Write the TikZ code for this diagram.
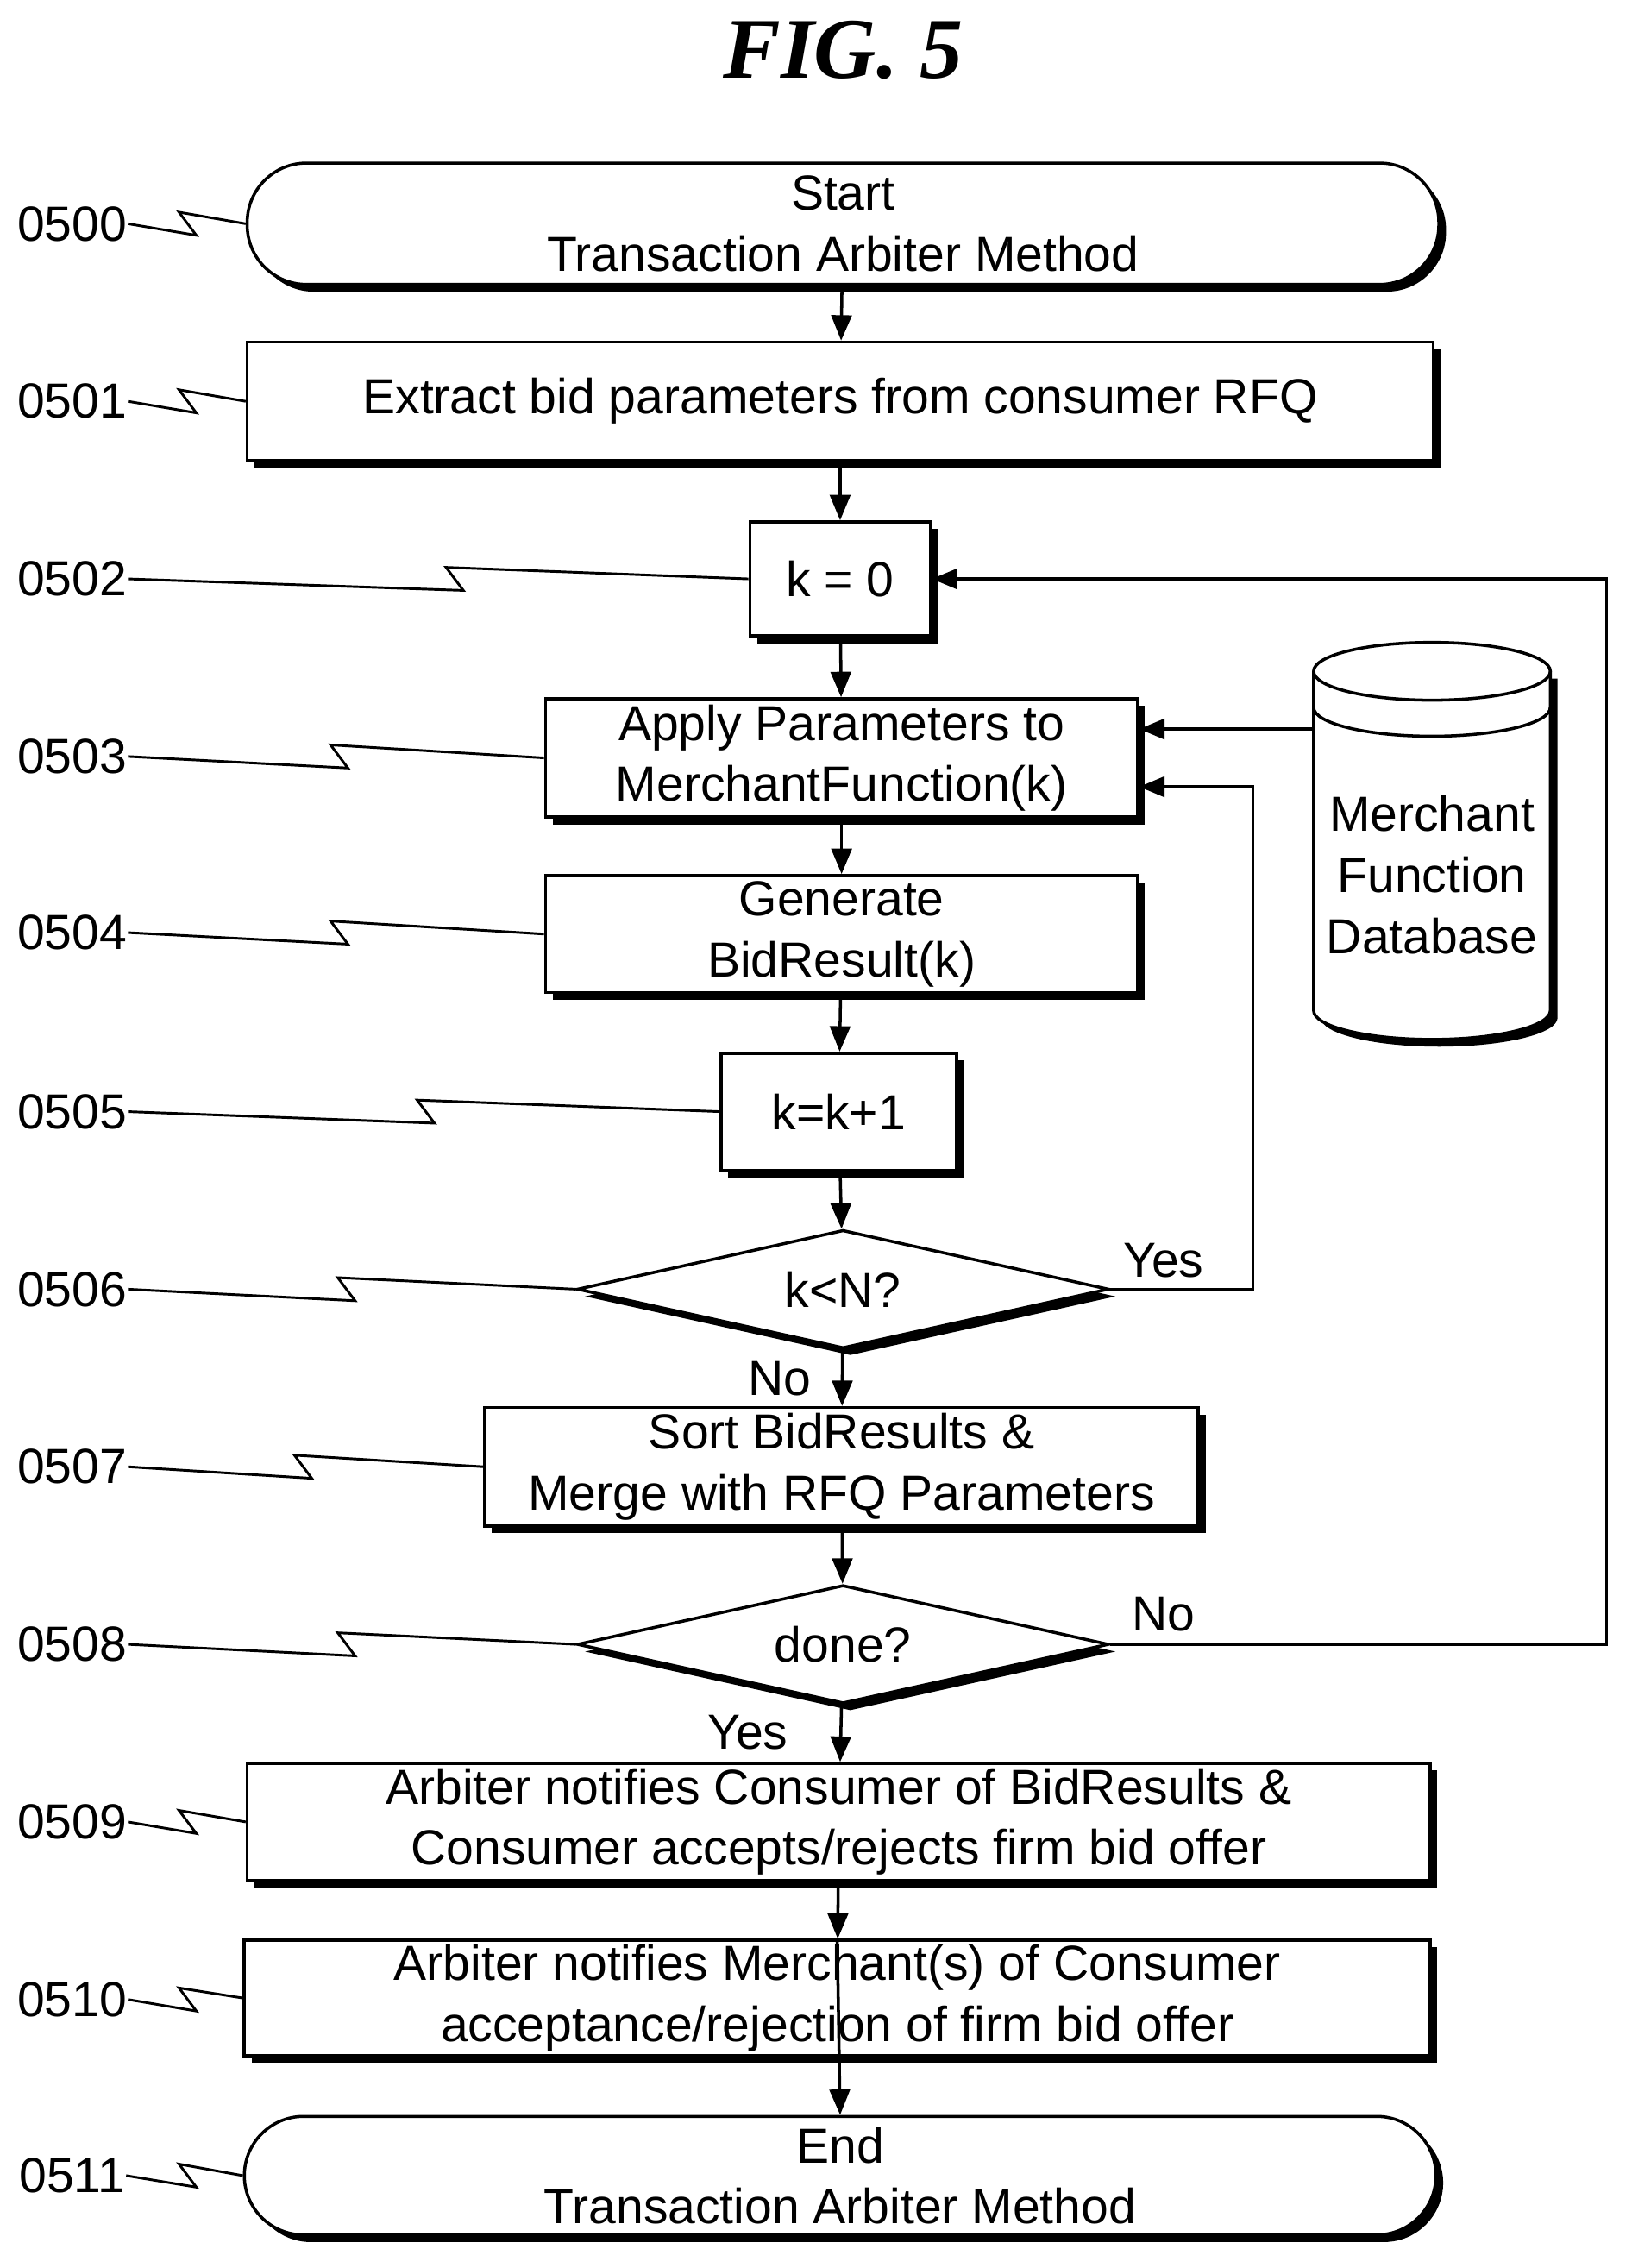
\documentclass[tikz,border=0pt]{standalone}
\usepackage{fontspec}
\setmainfont{Liberation Sans}
\newfontfamily\titlefont{Liberation Serif}
\usetikzlibrary{shadows,shapes.geometric,arrows.meta}
\begin{document}
\begin{tikzpicture}[x=0.01cm,y=-0.01cm,
  every node/.style={font=\fontsize{9.7}{12}\selectfont,align=center,inner sep=0pt},
  shad/.style={drop shadow={shadow xshift=0.05cm,shadow yshift=-0.05cm,fill=black,opacity=1}},
  box/.style={draw,fill=white,line width=0.6pt,shad},
  term/.style={box,rounded corners=0.41cm},
  dia/.style={draw,fill=white,line width=0.6pt,diamond,aspect=4.5,shad},
  arr/.style={-{Triangle[length=5pt,width=4pt]},line width=0.6pt},
  ln/.style={line width=0.5pt}]
\useasboundingbox (0,0) rectangle (1130,1571);
\newcommand\zz[4]{\draw[ln] (#1.east) -- (#3+6,#4+8) -- (#3-6,#4-8) -- (#2.west);}
\node[font=\titlefont\fontsize{17}{20}\selectfont\bfseries\itshape] (title) at (584,35) {FIG. 5};
\node[term,minimum width=8.25cm,minimum height=0.84cm] (n0) at (584,155) {Start\\Transaction Arbiter Method};
\node[box,minimum width=8.21cm,minimum height=0.82cm] (n1) at (582,278) {Extract bid parameters from consumer RFQ};
\node[box,minimum width=1.25cm,minimum height=0.79cm] (n2) at (582,401) {k = 0};
\node[box,minimum width=4.10cm,minimum height=0.82cm] (n3) at (583,525) {Apply Parameters to\\MerchantFunction(k)};
\node[box,minimum width=4.10cm,minimum height=0.81cm] (n4) at (583,647) {Generate\\BidResult(k)};
\node[box,minimum width=1.63cm,minimum height=0.81cm] (n5) at (581,770) {k=k+1};
\node[dia,minimum width=3.68cm,minimum height=0.82cm] (n6) at (584,893) {k<N?};
\node[box,minimum width=4.94cm,minimum height=0.82cm] (n7) at (583,1016) {Sort BidResults \&\\Merge with RFQ Parameters};
\node[dia,minimum width=3.68cm,minimum height=0.82cm] (n8) at (584,1139) {done?};
\node[box,minimum width=8.19cm,minimum height=0.81cm] (n9) at (581,1262) {Arbiter notifies Consumer of BidResults \&\\Consumer accepts/rejects firm bid offer};
\node[box,minimum width=8.21cm,minimum height=0.80cm] (n10) at (580,1384) {Arbiter notifies Merchant(s) of Consumer\\acceptance/rejection of firm bid offer};
\node[term,minimum width=8.25cm,minimum height=0.82cm] (n11) at (582,1507) {End\\Transaction Arbiter Method};
% database
\fill[black] (915,470) -- (915,705) arc[start angle=180,end angle=0,x radius=82,y radius=20] -- (1079,470) -- cycle;
\filldraw[fill=white,line width=0.6pt] (910,465) -- (910,700) arc[start angle=180,end angle=0,x radius=82,y radius=20] -- (1074,465) arc[start angle=0,end angle=-180,x radius=82,y radius=20] -- cycle;
\draw[line width=0.6pt] (910,465) arc[start angle=180,end angle=0,x radius=82,y radius=20];
\draw[line width=0.6pt] (910,490) arc[start angle=180,end angle=0,x radius=82,y radius=20];
\node (db) at (992,606) {Merchant\\Function\\Database};
\coordinate (dbw) at (910,505);
% flow arrows
\draw[arr] (n0) -- (n1);
\draw[arr] (n1) -- (n2);
\draw[arr] (n2) -- (n3);
\draw[arr] (n3) -- (n4);
\draw[arr] (n4) -- (n5);
\draw[arr] (n5) -- (n6);
\draw[arr] (n6) -- (n7);
\draw[arr] (n7) -- (n8);
\draw[arr] (n8) -- (n9);
\draw[arr] (n9) -- (n10);
\draw[arr] (n10.north) -- (n11.north);
\draw[arr] (dbw) -- (n3.east |- dbw);
\draw[arr] (n6.east) -| (868,545) -- (n3.east |- 0,545);
\draw[arr] (n8.east) -| (1113,401) -- (n2.east);
\node (y1) at (806,873) {Yes};
\node (no1) at (540,955) {No};
\node (no2) at (806,1118) {No};
\node (y2) at (518,1200) {Yes};
% reference labels
\node (l0) at (50,155) {0500}; \zz{l0}{n0}{130}{155}
\node (l1) at (50,278) {0501}; \zz{l1}{n1}{130}{278}
\node (l2) at (50,401) {0502}; \zz{l2}{n2}{315}{401}
\node (l3) at (50,524) {0503}; \zz{l3}{n3}{235}{524}
\node (l4) at (50,646) {0504}; \zz{l4}{n4}{235}{646}
\node (l5) at (50,770) {0505}; \zz{l5}{n5}{295}{770}
\node (l6) at (50,893) {0506}; \zz{l6}{n6}{240}{893}
\node (l7) at (50,1016) {0507}; \zz{l7}{n7}{210}{1016}
\node (l8) at (50,1139) {0508}; \zz{l8}{n8}{240}{1139}
\node (l9) at (50,1262) {0509}; \zz{l9}{n9}{130}{1262}
\node (l10) at (50,1385) {0510}; \zz{l10}{n10}{130}{1385}
\node (l11) at (50,1507) {0511}; \zz{l11}{n11}{130}{1507}
\end{tikzpicture}
\end{document}
